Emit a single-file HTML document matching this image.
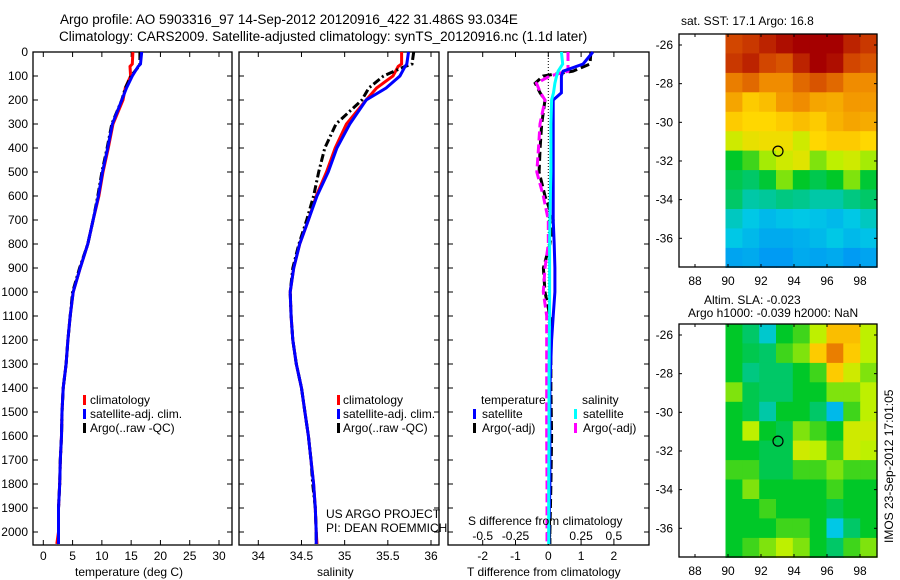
<!DOCTYPE html>
<html><head><meta charset="utf-8"><style>
html,body{margin:0;padding:0;background:#fff;}
svg{display:block;font-family:"Liberation Sans",sans-serif;}
text{font-size:12px;fill:#000;}
</style></head><body>
<svg id="fig" width="900" height="580" viewBox="0 0 900 580">
<text x="60" y="24" style="font-size:13.5px">Argo profile: AO 5903316_97 14-Sep-2012 20120916_422 31.486S 93.034E</text>
<text x="59" y="41" style="font-size:13.5px">Climatology: CARS2009. Satellite-adjusted climatology: synTS_20120916.nc (1.1d later)</text>
<g id="p1"></g>
<g id="p2"></g>
<g id="p3"></g>
<g id="m1"></g>
<g id="m2"></g>
<text x="90" y="404">climatology</text>
<text x="90" y="418">satellite-adj. clim.</text>
<text x="90" y="432">Argo(..raw -QC)</text>
<rect x="83" y="395" width="3" height="10" fill="#f00"/>
<rect x="83" y="409" width="3" height="10" fill="#00f"/>
<rect x="83" y="423" width="3" height="10" fill="#000"/>
<text x="343" y="404">climatology</text>
<text x="343" y="418">satellite-adj. clim.</text>
<text x="343" y="432">Argo(..raw -QC)</text>
<rect x="337" y="395" width="3" height="10" fill="#f00"/>
<rect x="337" y="409" width="3" height="10" fill="#00f"/>
<rect x="337" y="423" width="3" height="10" fill="#000"/>
<text x="326" y="518">US ARGO PROJECT</text>
<text x="326" y="532">PI: DEAN ROEMMICH</text>
<text x="481" y="404">temperature</text>
<text x="482" y="418">satellite</text>
<text x="482" y="432">Argo(-adj)</text>
<text x="582" y="404">salinity</text>
<text x="583" y="418">satellite</text>
<text x="583" y="432">Argo(-adj)</text>
<rect x="473" y="409" width="3" height="10" fill="#00f"/>
<rect x="473" y="423" width="3" height="10" fill="#000"/>
<rect x="574" y="409" width="3" height="10" fill="#0ff"/>
<rect x="574" y="423" width="3" height="10" fill="#f0f"/>
<text x="468" y="525">S difference from climatology</text>
<text x="75" y="576">temperature (deg C)</text>
<text x="317" y="576">salinity</text>
<text x="467" y="576">T difference from climatology</text>
<text x="681" y="25">sat. SST: 17.1 Argo: 16.8</text>
<text x="704" y="304">Altim. SLA: -0.023</text>
<text x="688" y="317">Argo h1000: -0.039 h2000: NaN</text>
<text transform="translate(893,543) rotate(-90)">IMOS 23-Sep-2012 17:01:05</text>
</svg>
<script>
// ---- data ----
const depth = [0,50,60,100,150,200,300,400,500,600,700,800,900,1000,1100,1200,1300,1400,1500,1600,1700,1800,1900,2000,2050];
const tempClim = [15.3,15.2,14.8,14.9,14.0,13.6,11.9,11.1,10.2,9.5,8.5,7.6,6.3,5.1,4.6,4.2,3.9,3.4,3.2,3.1,2.9,2.8,2.6,2.6,2.3];
const tempSat  = [16.8,16.6,16.2,15.2,14.2,13.4,11.8,11.0,10.1,9.4,8.5,7.6,6.3,5.1,4.6,4.2,3.9,3.4,3.2,3.1,2.9,2.8,2.6,2.6,2.6];
const tempArgo = [16.5,16.5,16.3,15.0,14.0,13.4,11.7,10.9,10.0,9.3,8.5,7.6,6.2,5.0,4.6,4.2,3.9,3.4,3.2,3.1,2.9,2.8,2.6,2.6,2.6];
const salClim = [35.66,35.66,35.62,35.56,35.37,35.25,35.02,34.89,34.79,34.67,34.58,34.48,34.41,34.37,34.38,34.40,34.44,34.50,34.54,34.58,34.61,34.64,34.66,34.67,34.68];
const salSat  = [35.74,35.72,35.70,35.64,35.48,35.25,35.06,34.91,34.81,34.68,34.58,34.48,34.41,34.37,34.38,34.40,34.44,34.50,34.54,34.58,34.61,34.64,34.66,34.67,34.67];
const salArgo = [35.80,35.78,35.70,35.45,35.28,35.20,34.90,34.77,34.70,34.64,34.56,34.47,34.40,34.37,34.38,34.40,34.44,34.50,34.54,34.58,34.61,34.63,34.66,34.67,34.67];
const diffDepth = [0,50,80,100,130,170,200,300,400,500,600,700,800,900,1000,1100,1200,1400,1600,1800,2000,2050];
const tDiffSat  = [1.36,1.06,0.45,0.40,0.40,0.40,0.15,0.15,0.15,0.15,0.15,0.15,0.18,0.2,0.2,0.15,0.1,0.05,0.05,0.05,0.02,0.02];
const tDiffArgo = [1.30,1.27,0.75,-0.16,-0.40,-0.25,-0.10,-0.20,-0.25,-0.28,-0.10,0.15,0.05,-0.15,-0.10,0.05,0.08,0.08,0.1,0.08,0.05,0.05];
const sDiffSat  = [0.10,0.11,0.075,0.063,0.05,0.04,0.025,0.02,0.02,0.02,0.015,0.012,0.01,0.01,0.01,0.01,0.008,0.005,0.005,0.003,0.003,0.003];
const sDiffArgo = [0.15,0.15,0.15,0.013,-0.09,-0.06,-0.025,-0.063,-0.075,-0.088,-0.038,0,0,-0.025,-0.038,-0.012,-0.012,-0.012,-0.012,-0.01,-0.01,-0.01];
const depthTicks = [0,100,200,300,400,500,600,700,800,900,1000,1100,1200,1300,1400,1500,1600,1700,1800,1900,2000];
const tempTicks = [0,5,10,15,20,25,30];
const salTicks = [34,34.5,35,35.5,36];
const tDiffTicks = [-2,-1,0,1,2];
const sDiffTicks = [-0.5,-0.25,0,0.25,0.5];
const lonTicks = [88,90,92,94,96,98];
const latTicks = [-26,-28,-30,-32,-34,-36];
const sstGrid = [
[0.90,0.92,0.95,0.98,1,1,1,0.95,0.92],
[0.92,0.95,0.90,0.88,0.95,1,0.98,0.90,0.88],
[0.82,0.85,0.80,0.80,0.85,0.88,0.85,0.80,0.80],
[0.76,0.70,0.72,0.78,0.80,0.76,0.75,0.78,0.78],
[0.70,0.68,0.68,0.70,0.72,0.70,0.74,0.76,0.75],
[0.62,0.65,0.66,0.66,0.62,0.68,0.70,0.70,0.68],
[0.45,0.50,0.58,0.62,0.64,0.55,0.60,0.62,0.58],
[0.42,0.40,0.44,0.55,0.45,0.42,0.45,0.55,0.44],
[0.40,0.35,0.36,0.38,0.37,0.35,0.35,0.38,0.40],
[0.33,0.30,0.25,0.28,0.30,0.28,0.25,0.30,0.33],
[0.30,0.25,0.20,0.20,0.22,0.25,0.30,0.25,0.28],
[0.18,0.20,0.15,0.15,0.20,0.18,0.20,0.15,0.18]];
const slaGrid = [
[0.45,0.40,0.32,0.45,0.50,0.60,0.72,0.72,0.60],
[0.45,0.42,0.40,0.50,0.55,0.70,0.82,0.70,0.60],
[0.45,0.38,0.40,0.40,0.45,0.50,0.70,0.62,0.55],
[0.55,0.42,0.40,0.40,0.45,0.45,0.55,0.55,0.60],
[0.45,0.42,0.35,0.45,0.45,0.40,0.25,0.50,0.60],
[0.45,0.60,0.45,0.42,0.55,0.50,0.45,0.62,0.62],
[0.45,0.45,0.42,0.42,0.62,0.60,0.50,0.62,0.60],
[0.50,0.50,0.42,0.42,0.50,0.50,0.55,0.50,0.50],
[0.45,0.55,0.45,0.45,0.45,0.45,0.50,0.45,0.45],
[0.45,0.45,0.50,0.45,0.45,0.45,0.42,0.45,0.45],
[0.45,0.45,0.45,0.50,0.50,0.45,0.30,0.40,0.45],
[0.45,0.50,0.55,0.60,0.55,0.45,0.40,0.50,0.55]];
const argoLon = 93.03, argoLat = -31.49;

// ---- helpers ----
const NS='http://www.w3.org/2000/svg';
function mk(parent, tag, attrs){const e=document.createElementNS(NS,tag);for(const k in attrs)e.setAttribute(k,attrs[k]);parent.appendChild(e);return e;}
const Y0=52, Y1=545;
const yD = d => Y0 + d*0.24;
function lin(d0,d1,r0,r1){return v=>r0+(v-d0)*(r1-r0)/(d1-d0);}

function panel(g, x0, x1, xs, ticks, tickLabels, leftLabels){
  const r=mk(g,'rect',{x:x0,y:Y0,width:x1-x0,height:Y1-Y0,fill:'none',stroke:'#000','stroke-width':1.3});
  
  
  depthTicks.forEach(d=>{
    const y=yD(d);
    const a=mk(g,'line',{x1:x0,x2:x0+5,y1:y,y2:y,stroke:'#000'});
    
    
    const b=mk(g,'line',{x1:x1,x2:x1-5,y1:y,y2:y,stroke:'#000'});
    
    
    if(leftLabels){
      const t=mk(g,'text',{x:x0-5,y:y+4,'text-anchor':'end'});t.textContent=d;
      
      
    }
  });
  ticks.forEach((v,i)=>{
    const x=xs(v);
    const a=mk(g,'line',{x1:x,x2:x,y1:Y0,y2:Y0+5,stroke:'#000'});
    
    
    const b=mk(g,'line',{x1:x,x2:x,y1:Y1,y2:Y1-5,stroke:'#000'});
    
    
    if(tickLabels){
      const t=mk(g,'text',{x:x,y:560,'text-anchor':'middle'});t.textContent=v;
      
      
    }
  });
}
function line(g, xs, vals, deps, color, dash, name, scale){
  const pts=vals.map((v,i)=>xs(v*(scale||1)).toFixed(1)+','+yD(deps[i]).toFixed(1)).join(' ');
  const p=mk(g,'polyline',{points:pts,fill:'none',stroke:color,'stroke-width':3});
  if(dash)p.setAttribute('stroke-dasharray',dash);
  
  
}

// panel 1
const p1=document.getElementById('p1');
const xT=lin(0,30,43.3,219);
panel(p1,33,232,xT,tempTicks,true,true);
line(p1,xT,tempClim,depth,'#f00',null,'temp-climatology-line');
line(p1,xT,tempArgo,depth,'#000','8,3,2,3','temp-argo-line');
line(p1,xT,tempSat,depth,'#00f',null,'temp-satellite-line');

// panel 2
const p2=document.getElementById('p2');
const xS=lin(34,36,258.3,431);
panel(p2,239,439,xS,salTicks,true,false);
line(p2,xS,salClim,depth,'#f00',null,'sal-climatology-line');
line(p2,xS,salArgo,depth,'#000','8,3,2,3','sal-argo-line');
line(p2,xS,salSat,depth,'#00f',null,'sal-satellite-line');

// panel 3
const p3=document.getElementById('p3');
const xDT=lin(0,1,548.3,581.1);
panel(p3,448,649,xDT,tDiffTicks,true,false);
sDiffTicks.forEach(v=>{
  const t=mk(p3,'text',{x:xDT(v*4),y:540,'text-anchor':'middle'});t.textContent=v;
  
  
});
const zl=mk(p3,'line',{x1:xDT(0),x2:xDT(0),y1:Y0,y2:Y1,stroke:'#000','stroke-dasharray':'1,2'});


line(p3,xDT,tDiffArgo,diffDepth,'#000','9,4','t-diff-argo-line');
line(p3,xDT,sDiffArgo,diffDepth,'#f0f','9,4','s-diff-argo-line',4);
line(p3,xDT,tDiffSat,diffDepth,'#00f',null,'t-diff-satellite-line');
line(p3,xDT,sDiffSat,diffDepth,'#0ff',null,'s-diff-satellite-line',4);

// maps
const stops=[[0,[0,110,255]],[0.3,[0,200,230]],[0.45,[0,200,40]],[0.6,[190,240,0]],[0.68,[255,215,0]],[0.8,[240,140,0]],[0.9,[210,70,0]],[1,[165,0,0]]];
function cmap(v){for(let i=1;i<stops.length;i++){if(v<=stops[i][0]){const a=stops[i-1],b=stops[i],t=(v-a[0])/(b[0]-a[0]);return 'rgb('+a[1].map((c,k)=>Math.round(c+(b[1][k]-c)*t)).join(',')+')';}}return 'rgb(165,0,0)';}
function map(g, top, grid, prefix){
  const bx0=679,bx1=877,by0=top,by1=top+233;
  const xL=lin(88,98,695,860);
  const yL=lin(-26,-36,top+11,top+204.3);
  const lonA=89.85,lonB=99.03,latA=-25.43,latB=-37.5;
  const nr=grid.length,nc=grid[0].length;
  grid.forEach((row,r)=>row.forEach((v,c)=>{
    const la0=latA+(latB-latA)*r/nr, la1=latA+(latB-latA)*(r+1)/nr;
    const lo0=lonA+(lonB-lonA)*c/nc, lo1=lonA+(lonB-lonA)*(c+1)/nc;
    const x=xL(lo0),y=yL(la0);
    const e=mk(g,'rect',{x:x.toFixed(1),y:y.toFixed(1),width:(xL(lo1)-x+0.6).toFixed(1),height:(yL(la1)-y+0.6).toFixed(1),fill:cmap(v)});
    
    
  }));
  const fr=mk(g,'rect',{x:bx0,y:by0,width:bx1-bx0,height:by1-by0,fill:'none',stroke:'#000','stroke-width':1.3});
  
  
  lonTicks.forEach(v=>{
    const x=xL(v);
    const a=mk(g,'line',{x1:x,x2:x,y1:by0,y2:by0+3,stroke:'#000'});
    
    
    const b=mk(g,'line',{x1:x,x2:x,y1:by1,y2:by1-3,stroke:'#000'});
    
    
    const t=mk(g,'text',{x:x,y:by1+18,'text-anchor':'middle'});t.textContent=v;
    
    
  });
  latTicks.forEach(v=>{
    const y=yL(v);
    const a=mk(g,'line',{x1:bx0,x2:bx0+3,y1:y,y2:y,stroke:'#000'});
    
    
    const b=mk(g,'line',{x1:bx1,x2:bx1-3,y1:y,y2:y,stroke:'#000'});
    
    
    const t=mk(g,'text',{x:bx0-6,y:y+4,'text-anchor':'end'});t.textContent=v;
    
    
  });
  const c=mk(g,'circle',{cx:xL(argoLon),cy:yL(argoLat),r:5,fill:'none',stroke:'#000','stroke-width':1.2});
  
  
}
map(document.getElementById('m1'),34,sstGrid,'sst-map');
map(document.getElementById('m2'),324,slaGrid,'sla-map');
</script>
</body></html>
